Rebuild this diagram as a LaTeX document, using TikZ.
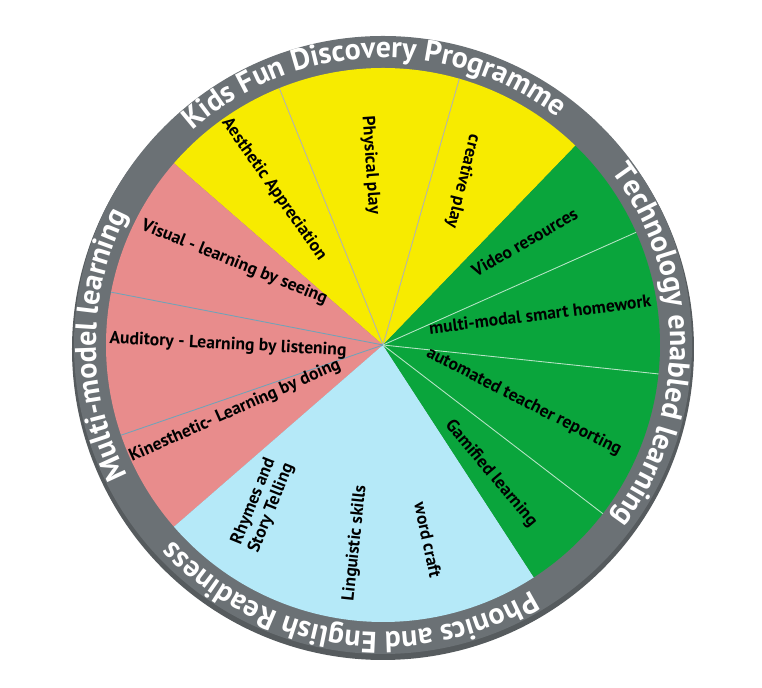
\documentclass[tikz,border=0pt]{standalone}
\usepackage{fontspec}
\setmainfont{PT Sans}
\usetikzlibrary{decorations.text}
\definecolor{ringgray}{HTML}{6B7175}
\definecolor{kidyellow}{HTML}{F7EB00}
\definecolor{kidgreen}{HTML}{0AA53C}
\definecolor{kidblue}{HTML}{B5E9F8}
\definecolor{kidpink}{HTML}{E88C8C}
\tikzset{
  divider/.style={line width=0.5pt},
  lbl/.style={font=\fontsize{10}{11}\selectfont\bfseries, align=center, inner sep=1pt},
  ringtext/.style={decorate, decoration={text along path, text align=center,
    text={|\fontsize{17}{18}\selectfont\bfseries\color{white}|#1}}}
}
\newcommand{\wedgeat}[3]{\fill[#3] (0,0) -- (#1:277) arc[start angle=#1, end angle=#2, radius=277] -- cycle;}
\begin{document}
\begin{tikzpicture}[x=0.02cm,y=0.02cm]
\useasboundingbox (-383,-343) rectangle (379,345);
% outer ring
\fill[ringgray!80!black] (0,-4) circle (311);
\fill[ringgray] (0,0) circle (309);
% sectors
\wedgeat{46}{139}{kidyellow}
\wedgeat{139}{221}{kidpink}
\wedgeat{221}{303}{kidblue}
\wedgeat{-57}{46}{kidgreen}
% dividers
\foreach \a in {112,74} \draw[divider, black!30] (0,0) -- (\a:277);
\foreach \a in {24,-6,-37.5} \draw[divider, white!70!kidgreen] (0,0) -- (\a:277);
\foreach \a in {169,199} \draw[divider, cyan!40!gray] (0,0) -- (\a:277);
% ring labels
\path[ringtext={Kids Fun Discovery Programme}] (160:287) arc[start angle=160, end angle=24, radius=287];
\path[ringtext={Technology enabled learning}] (68:287) arc[start angle=68, end angle=-68, radius=287];
\path[ringtext={Phonics and English Readiness}] (-30:287) arc[start angle=-30, end angle=-166, radius=287];
\path[ringtext={Multi-model learning}] (248:287) arc[start angle=248, end angle=112, radius=287];
% yellow
\node[lbl, rotate=-55] (aes) at (125:190) {Aesthetic Appreciation};
\node[lbl, rotate=-86] (phy) at (94:180) {Physical play};
\node[lbl, rotate=-104] (cre) at (64:182) {creative play};
% green
\node[lbl, rotate=30] (vid) at (36:175) {Video resources};
\node[lbl, rotate=7] (hom) at (11:160) {multi-modal smart homework};
\node[lbl, rotate=-27] (rep) at (-22:152) {automated teacher reporting};
\node[lbl, rotate=-50] (gam) at (-50:168) {Gamified learning};
% blue
\node[lbl, rotate=68] (rhy) at (233:200) {Rhymes and\\Story Telling};
\node[lbl, rotate=84] (lin) at (262:200) {Linguistic skills};
\node[lbl, rotate=-78] (wor) at (283:200) {word craft};
% pink
\node[lbl, rotate=-22] (vis) at (151:170) {Visual - learning by seeing};
\node[lbl, rotate=-3] (aud) at (180:155) {Auditory - Learning by listening};
\node[lbl, rotate=24] (kin) at (204:162) {Kinesthetic- Learning by doing};
\end{tikzpicture}
\end{document}
